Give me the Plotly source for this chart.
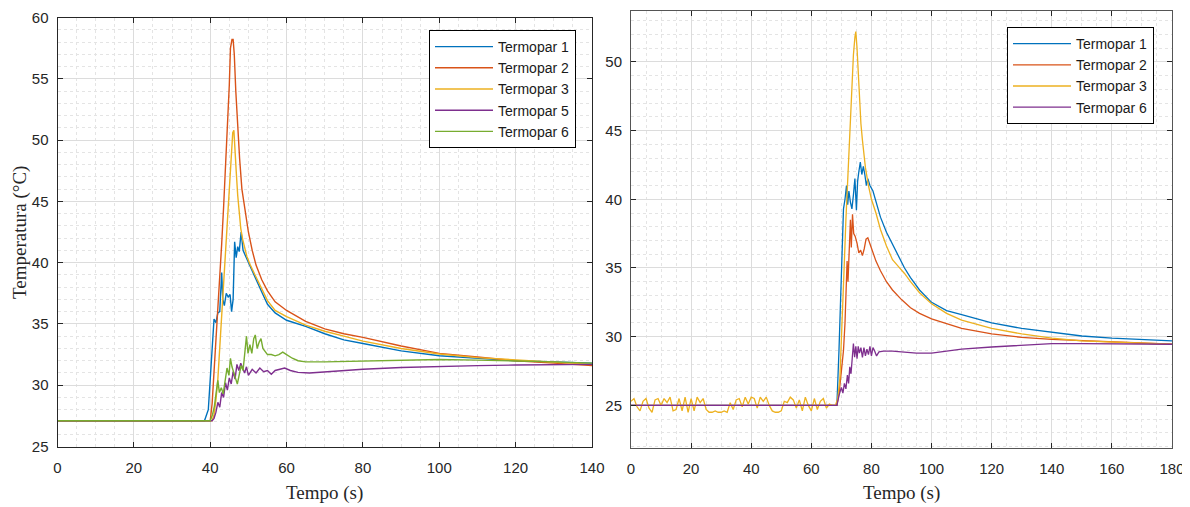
import plotly.graph_objects as go

# ---------------- Left chart data ----------------
L1_t = [0, 38.5, 39.5, 40.3, 41.0, 41.5, 42.0, 42.5, 43.0, 43.3, 43.7, 44.2, 44.7, 45.2, 45.6, 46.0,
        46.4, 46.8, 47.2, 47.6, 48.1, 48.6, 49.3, 50.5, 52.0, 53.5, 55.0, 57.0, 60.0, 65.0, 70.0, 75.0,
        80.0, 90.0, 100.0, 110.0, 120.0, 130.0, 140.0]
L1_v = [27.1, 27.1, 28.0, 32.5, 35.4, 35.1, 35.9, 36.0, 39.2, 37.0, 36.5, 37.5, 37.2, 37.4, 36.0, 37.0,
        41.7, 40.4, 41.3, 40.9, 42.5, 41.0, 40.5, 39.6, 38.6, 37.6, 36.6, 35.9, 35.3, 34.8, 34.2, 33.7,
        33.4, 32.8, 32.4, 32.2, 32.0, 31.9, 31.8]

L2_t = [0, 40.0, 40.5, 41.0, 41.5, 42.0, 42.5, 43.0, 43.5, 44.0, 44.5, 45.0, 45.3, 45.7, 46.0, 46.3,
        46.7, 47.2, 47.7, 48.3, 49.0, 50.0, 51.0, 52.0, 53.5, 55.0, 57.0, 60.0, 65.0, 70.0, 75.0, 80.0,
        90.0, 100.0, 110.0, 120.0, 130.0, 140.0]
L2_v = [27.1, 27.1, 28.5, 31.0, 33.5, 36.0, 38.5, 41.5, 44.5, 47.5, 51.0, 54.5, 57.5, 58.2, 58.2, 57.0,
        54.0, 51.0, 48.5, 46.0, 44.5, 42.5, 41.0, 39.8, 38.6, 37.7, 36.8, 36.1, 35.2, 34.6, 34.2, 33.9,
        33.2, 32.6, 32.3, 32.0, 31.8, 31.6]

L3_t = [0, 40.5, 41.0, 41.5, 42.0, 42.5, 43.0, 43.5, 44.0, 44.5, 45.0, 45.5, 45.9, 46.2, 46.5, 46.8,
        47.2, 47.6, 48.0, 48.5, 49.0, 49.6, 50.5, 52.0, 53.5, 55.0, 57.0, 60.0, 65.0, 70.0, 75.0, 80.0,
        90.0, 100.0, 110.0, 120.0, 130.0, 140.0]
L3_v = [27.1, 27.1, 27.6, 28.8, 30.5, 33.0, 35.7, 38.4, 41.0, 43.6, 46.2, 48.8, 50.6, 50.8, 49.5, 47.5,
        45.5, 44.0, 42.8, 41.9, 41.2, 40.5, 39.8, 38.8, 37.8, 36.9, 36.1, 35.6, 34.9, 34.4, 34.0, 33.6,
        33.0, 32.55, 32.25, 32.05, 31.85, 31.7]

L5_t = [0, 40.5, 41.0, 41.5, 42.0, 42.5, 43.0, 43.5, 44.0, 44.5, 45.0, 45.5, 46.0, 46.5, 47.0, 47.5,
        48.0, 48.5, 49.0, 49.5, 50.0, 51.0, 52.0, 53.0, 54.0, 55.0, 56.0, 57.0, 58.0, 59.5, 61.0, 63.0,
        66.0, 70.0, 80.0, 90.0, 100.0, 110.0, 120.0, 130.0, 140.0]
L5_v = [27.1, 27.1, 27.3, 27.8, 28.6, 28.2, 29.4, 29.0, 30.2, 29.6, 30.6, 30.1, 31.1, 30.5, 31.7, 31.2,
        31.8, 31.3, 31.0, 31.5, 30.8, 31.3, 31.0, 31.4, 31.1, 31.2, 30.9, 31.2, 31.3, 31.4, 31.2, 31.05,
        31.0, 31.1, 31.3, 31.45, 31.55, 31.6, 31.65, 31.7, 31.7]

L6_t = [0, 40.0, 40.6, 41.1, 41.6, 42.0, 42.4, 42.9, 43.4, 43.9, 44.4, 44.9, 45.3, 45.7, 46.1, 46.6,
        47.1, 47.6, 48.1, 48.6, 49.1, 49.5, 49.9, 50.4, 50.9, 51.4, 51.8, 52.3, 52.8, 53.3, 53.8, 54.4,
        55.0, 56.0, 57.0, 58.0, 59.0, 60.0, 61.5, 63.0, 65.0, 70.0, 80.0, 90.0, 100.0, 110.0, 120.0,
        130.0, 140.0]
L6_v = [27.1, 27.1, 27.6, 28.3, 29.5, 30.4, 29.4, 29.8, 29.3, 30.6, 31.4, 30.8, 32.2, 31.5, 31.0, 30.6,
        30.1, 30.8, 31.6, 31.2, 32.5, 34.0, 32.6, 33.3, 32.6, 33.8, 34.1, 33.0, 33.5, 33.8, 33.0, 32.7,
        32.5, 32.5, 32.4, 32.5, 32.7, 32.5, 32.2, 32.0, 31.9, 31.9, 31.95, 32.0, 32.1, 32.05, 32.0,
        31.9, 31.8]

# ---------------- Right chart data ----------------
R1_t = [0, 68.5, 69.2, 69.8, 70.3, 70.7, 71.2, 71.7, 72.1, 72.5, 73.0, 73.5, 74.0, 74.5, 75.0, 75.4,
        75.8, 76.3, 76.8, 77.3, 77.8, 78.3, 78.8, 79.5, 80.5, 83.0, 85.0, 87.0, 89.0, 91.0, 93.0, 96.0,
        100.0, 105.0, 110.0, 120.0, 130.0, 140.0, 150.0, 160.0, 170.0, 180.0]
R1_v = [25.0, 25.0, 29.0, 33.5, 37.5, 39.3, 40.0, 41.0, 39.6, 40.6, 39.8, 39.3, 40.3, 41.5, 39.2, 41.3,
        42.0, 42.7, 41.8, 42.4, 41.8, 41.0, 41.5, 41.0, 40.6, 38.7, 37.6, 36.7, 35.9, 35.0, 34.3, 33.4,
        32.5, 31.9, 31.6, 31.0, 30.6, 30.3, 30.05, 29.9, 29.8, 29.7]

R2_t = [0, 68.5, 69.3, 70.0, 70.7, 71.2, 71.6, 71.9, 72.2, 72.6, 73.0, 73.3, 73.7, 74.1, 74.6, 75.2,
        75.8, 76.4, 77.0, 77.6, 78.2, 78.8, 79.4, 80.2, 81.5, 83.0, 85.0, 87.0, 90.0, 93.0, 96.0,
        100.0, 110.0, 120.0, 130.0, 140.0, 160.0, 180.0]
R2_v = [25.0, 25.0, 26.0, 27.5, 29.0, 31.0, 33.5, 35.5, 34.0, 37.0, 38.5, 36.5, 38.9, 37.5, 37.3, 36.8,
        36.1, 36.3, 35.9, 36.4, 37.1, 37.2, 36.8, 36.2, 35.5, 34.8, 34.0, 33.4, 32.7, 32.1, 31.7,
        31.3, 30.6, 30.2, 29.95, 29.8, 29.6, 29.45]

R3_t = [0, 1, 2, 3, 4, 5, 6, 7, 8, 9, 10, 11, 12, 13, 14, 15, 16, 17, 18, 19, 20, 21, 22, 23, 24, 25,
        26, 27, 28, 29, 30, 31, 32, 33, 34, 35, 36, 37, 38, 39, 40, 41, 42, 43, 44, 45, 46, 47, 48, 49,
        50, 51, 52, 53, 54, 55, 56, 57, 58, 59, 60, 61, 62, 63, 64, 65, 66, 67, 68,
        68.8, 69.5, 70.0, 70.5, 71.0, 71.5, 72.0, 72.5, 73.0, 73.5, 74.0, 74.5, 74.8, 75.2, 75.6, 76.0,
        76.5, 77.0, 77.5, 78.0, 79.0, 80.0, 81.5, 83.0, 85.0, 87.0, 89.0, 91.0, 93.0, 96.0, 100.0,
        105.0, 110.0, 115.0, 120.0, 130.0, 140.0, 150.0, 160.0, 170.0, 180.0]
R3_v = [25.3, 25.5, 24.9, 24.6, 25.3, 25.5, 24.8, 24.5, 25.4, 25.5, 25.0, 25.5, 25.2, 25.6, 24.6, 24.7,
        25.5, 24.6, 25.6, 24.5, 25.5, 24.6, 25.6, 25.2, 25.5, 24.7, 24.5, 24.5, 24.6, 24.5, 24.5, 24.6,
        24.5, 25.2, 24.7, 25.4, 25.5, 24.9, 25.6, 25.1, 25.6, 25.5, 24.8, 25.6, 25.3, 25.6, 25.0, 24.6,
        24.5, 24.5, 24.6, 25.3, 25.2, 25.6, 25.4, 24.8, 25.4, 24.6, 25.6, 25.0, 24.6, 25.5, 24.7, 25.3,
        25.5, 24.8, 25.1, 25.0, 25.0,
        25.5, 27.0, 29.5, 32.5, 35.5, 38.5, 41.0, 43.5, 46.0, 48.5, 50.5, 51.8, 52.2, 51.0, 49.0, 47.2,
        45.5, 44.3, 43.2, 42.3, 41.0, 40.0, 39.0, 37.8, 36.6, 35.6, 35.1, 34.6, 34.0, 33.2, 32.4,
        31.7, 31.2, 30.9, 30.6, 30.2, 29.9, 29.7, 29.6, 29.5, 29.45]

R6_t = [0, 68.5, 69.3, 70.0, 70.5, 71.0, 71.5, 72.0, 72.4, 72.8, 73.2, 73.6, 74.0, 74.4, 74.8, 75.2,
        75.6, 76.0, 76.5, 77.0, 77.5, 78.0, 78.5, 79.0, 79.5, 80.0, 80.5, 81.0, 81.7, 82.5, 84.0, 87.0,
        90.0, 95.0, 100.0, 105.0, 110.0, 120.0, 130.0, 140.0, 150.0, 160.0, 170.0, 180.0]
R6_v = [25.0, 25.0, 25.8, 26.3, 25.9, 26.6, 26.2, 27.2, 26.6, 27.8, 27.3, 28.6, 29.5, 28.5, 29.3, 28.4,
        29.3, 28.8, 29.2, 28.5, 29.2, 28.6, 29.1, 28.7, 29.3, 28.6, 29.2, 29.0, 28.6, 28.9, 28.95, 28.95,
        28.9, 28.8, 28.8, 28.95, 29.1, 29.25, 29.4, 29.5, 29.5, 29.5, 29.5, 29.45]

C_BLUE = "#0072BD"
C_ORANGE = "#D95319"
C_YELLOW = "#EDB120"
C_PURPLE = "#7E2F8E"
C_GREEN = "#77AC30"

fig = go.Figure()

left_series = [("Termopar 1", L1_t, L1_v, C_BLUE),
               ("Termopar 2", L2_t, L2_v, C_ORANGE),
               ("Termopar 3", L3_t, L3_v, C_YELLOW),
               ("Termopar 5", L5_t, L5_v, C_PURPLE),
               ("Termopar 6", L6_t, L6_v, C_GREEN)]
for i, (name, t, v, c) in enumerate(left_series):
    fig.add_trace(go.Scatter(x=t, y=v, mode="lines", name=name, line=dict(color=c, width=1.4),
                             xaxis="x", yaxis="y", legend="legend", legendgroup="L%d" % i))

right_series = [("Termopar 1", R1_t, R1_v, C_BLUE),
                ("Termopar 2", R2_t, R2_v, C_ORANGE),
                ("Termopar 3", R3_t, R3_v, C_YELLOW),
                ("Termopar 6", R6_t, R6_v, C_PURPLE)]
for i, (name, t, v, c) in enumerate(right_series):
    fig.add_trace(go.Scatter(x=t, y=v, mode="lines", name=name, line=dict(color=c, width=1.3),
                             xaxis="x2", yaxis="y2", legend="legend2", legendgroup="R%d" % i))

# the page adds an 8 px body margin, so the figure is drawn 8 px in from the corner
OFF = 8
W, H = 1190 - OFF, 507 - OFF


def px(x):
    return (x - OFF) / W


def py(y):
    return 1 - (y - OFF) / H


tickfont = dict(family="Liberation Sans, Arial, sans-serif", size=15, color="#262626")


def axis(domain, rng, dtick, minor_dtick, anchor, linecolor="#262626"):
    return dict(domain=domain, range=rng, dtick=dtick, tick0=0, anchor=anchor,
                ticks="inside", ticklen=5, tickcolor="#262626", tickwidth=1,
                showline=True, linecolor=linecolor, linewidth=1, mirror="ticks",
                showgrid=True, gridcolor="#dcdcdc", gridwidth=1, zeroline=False,
                minor=dict(dtick=minor_dtick, tick0=0, showgrid=True, gridcolor="#e4e4e4",
                           griddash="dot", gridwidth=1),
                tickfont=tickfont, automargin=False, fixedrange=True,
                ticklabeloverflow="allow")


lx = [px(57.5), px(592)]
ly = [py(446.5), py(17.5)]
rx = [px(631), px(1172)]
ry = [py(448), py(11)]

xa = axis(lx, [0, 140.0001], 20, 5, "y")
xa["ticklabelstandoff"] = 7
ya = axis(ly, [24.9999, 60.0001], 5, 1, "x")
ya["ticklabelstandoff"] = 5
xa2 = axis(rx, [0, 180.0001], 20, 5, "y2", "#555555")
xa2["ticklabelstandoff"] = 7
ya2 = axis(ry, [21.9, 53.7], 5, 1, "x2", "#555555")
ya2["ticklabelstandoff"] = 5

legfont = dict(family="Liberation Sans, Arial, sans-serif", size=14, color="#1a1a1a")
titlefont = dict(family="Liberation Serif, Times New Roman, serif", size=19, color="#262626")

fig.update_layout(
    width=W, height=H,
    margin=dict(l=0, r=0, t=0, b=0),
    paper_bgcolor="white", plot_bgcolor="white",
    template="none",
    xaxis=xa, yaxis=ya, xaxis2=xa2, yaxis2=ya2,
    legend=dict(x=px(429), y=py(30), xanchor="left", yanchor="top",
                bordercolor="#000000", borderwidth=1, bgcolor="white", font=legfont,
                itemwidth=58, tracegroupgap=0, traceorder="grouped"),
    legend2=dict(x=px(1007), y=py(27), xanchor="left", yanchor="top",
                 bordercolor="#000000", borderwidth=1, bgcolor="white", font=legfont,
                 itemwidth=58, tracegroupgap=0, traceorder="grouped"),
    annotations=[
        dict(text="Temperatura (°C)", x=px(20), y=py(233), xref="paper", yref="paper",
             xanchor="center", yanchor="middle", textangle=-90, showarrow=False, font=titlefont),
        dict(text="Tempo (s)", x=(lx[0] + lx[1]) / 2, y=py(493), xref="paper", yref="paper",
             xanchor="center", yanchor="middle", showarrow=False, font=titlefont),
        dict(text="Tempo (s)", x=(rx[0] + rx[1]) / 2, y=py(493), xref="paper", yref="paper",
             xanchor="center", yanchor="middle", showarrow=False, font=titlefont),
    ],
)

fig.write_html("out.html")
